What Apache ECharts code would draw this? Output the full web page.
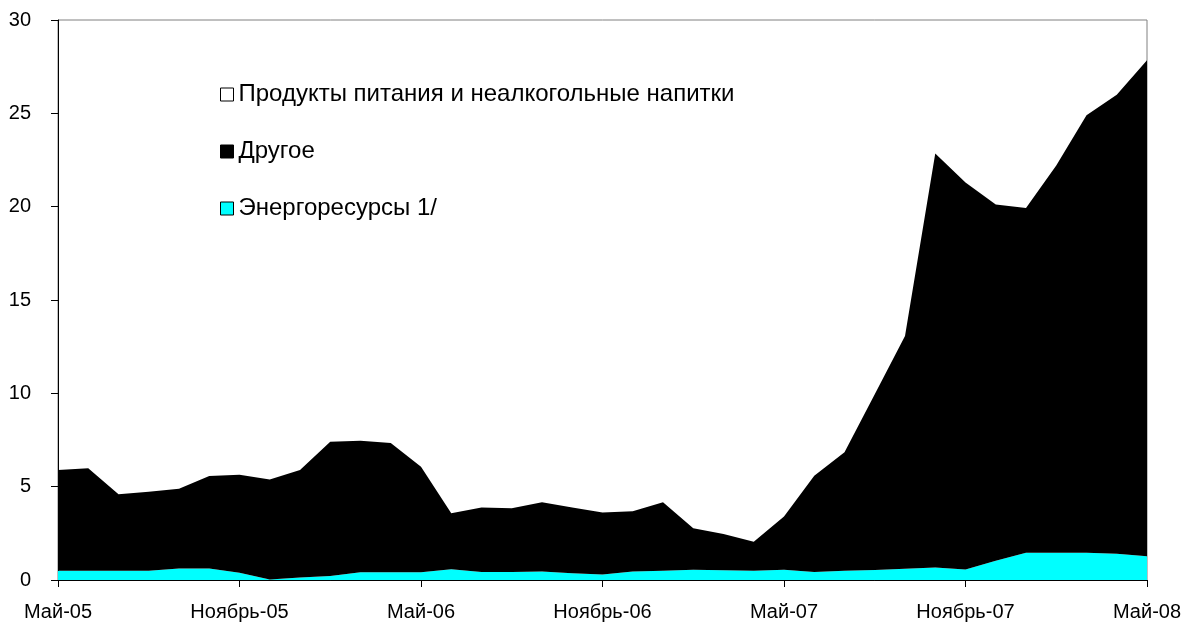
<!DOCTYPE html>
<html>
<head>
<meta charset="utf-8">
<script src="https://cdn.jsdelivr.net/npm/echarts@6/dist/echarts.min.js"></script>
<style>
    html, body { margin: 0; padding: 0; background: #fff; }
    #chart { width: 1197px; height: 630px; }
</style>
</head>
<body>
<div id="chart"></div>
<script>
// месяцы май-05 ... май-08
const monthNames = ['Май', 'Июнь', 'Июль', 'Август', 'Сентябрь', 'Октябрь',
    'Ноябрь', 'Декабрь', 'Январь', 'Февраль', 'Март', 'Апрель'];
const years = ['05', '05', '05', '05', '05', '05', '05', '05',
    '06', '06', '06', '06', '06', '06', '06', '06', '06', '06', '06', '06',
    '07', '07', '07', '07', '07', '07', '07', '07', '07', '07', '07', '07',
    '08', '08', '08', '08', '08'];
const months = years.map((y, i) => monthNames[i % 12] + '-' + y);

// Энергоресурсы 1/
const energy = [0.50, 0.50, 0.50, 0.50, 0.62, 0.62, 0.39, 0.03, 0.14, 0.21, 0.41, 0.41, 0.41,
    0.58, 0.43, 0.43, 0.46, 0.36, 0.30, 0.46, 0.50, 0.55, 0.52, 0.50, 0.55,
    0.43, 0.49, 0.54, 0.60, 0.67, 0.56, 1.03, 1.46, 1.46, 1.46, 1.40, 1.27];

// Другое
const other = [5.39, 5.48, 4.10, 4.23, 4.27, 4.95, 5.25, 5.36, 5.75, 7.20, 7.05, 6.93, 5.66,
    2.99, 3.46, 3.41, 3.70, 3.53, 3.31, 3.22, 3.66, 2.22, 1.94, 1.55, 2.85,
    5.16, 6.35, 9.41, 12.47, 22.18, 20.74, 19.09, 18.47, 20.74, 23.44, 24.60, 26.57];

// Продукты питания (белая область, на картинке не видна)
const food = [];

const yTicks = { min: 0, max: 30, step: 5 };

const chart = echarts.init(document.getElementById('chart'));

const font = 'Arial, "Liberation Sans", sans-serif';

chart.setOption({
    animation: false,
    backgroundColor: '#fff',
    grid: {
        left: 58,
        right: 50,
        top: 20,
        bottom: 50,
        show: true,
        borderColor: '#808080',
        borderWidth: 1
    },
    legend: {
        orient: 'vertical',
        left: 215,
        top: 76,
        itemWidth: 13,
        itemHeight: 13,
        itemGap: 30,
        icon: 'rect',
        itemStyle: { borderColor: '#000', borderWidth: 1 },
        textStyle: { color: '#000', fontSize: 24, fontFamily: font, lineHeight: 27 },
        data: ['Продукты питания и неалкогольные напитки', 'Другое', 'Энергоресурсы 1/']
    },
    xAxis: {
        type: 'category',
        boundaryGap: false,
        data: months,
        axisLine: { lineStyle: { color: '#000', width: 1 } },
        axisTick: { interval: 5, length: 7, lineStyle: { color: '#000' } },
        axisLabel: { interval: 5, color: '#000', fontSize: 20, fontFamily: font, margin: 22 },
        splitLine: { show: false }
    },
    yAxis: {
        type: 'value',
        min: yTicks.min,
        max: yTicks.max,
        interval: yTicks.step,
        axisLine: { show: true, lineStyle: { color: '#000', width: 1 } },
        axisTick: { show: true, length: 7, lineStyle: { color: '#000' } },
        axisLabel: { color: '#000', fontSize: 20, fontFamily: font, margin: 27 },
        splitLine: { show: false }
    },
    series: [
        {
            name: 'Энергоресурсы 1/',
            type: 'line',
            stack: 'total',
            data: energy,
            symbol: 'none',
            color: '#00FFFF',
            lineStyle: { width: 0 },
            areaStyle: { color: '#00FFFF', opacity: 1 }
        },
        {
            name: 'Другое',
            type: 'line',
            stack: 'total',
            data: other,
            symbol: 'none',
            color: '#000000',
            lineStyle: { width: 0 },
            areaStyle: { color: '#000000', opacity: 1 }
        },
        {
            name: 'Продукты питания и неалкогольные напитки',
            type: 'line',
            stack: 'total',
            data: food,
            symbol: 'none',
            color: '#ffffff',
            lineStyle: { width: 0 },
            areaStyle: { color: '#ffffff', opacity: 1 }
        }
    ]
});
</script>
</body>
</html>
